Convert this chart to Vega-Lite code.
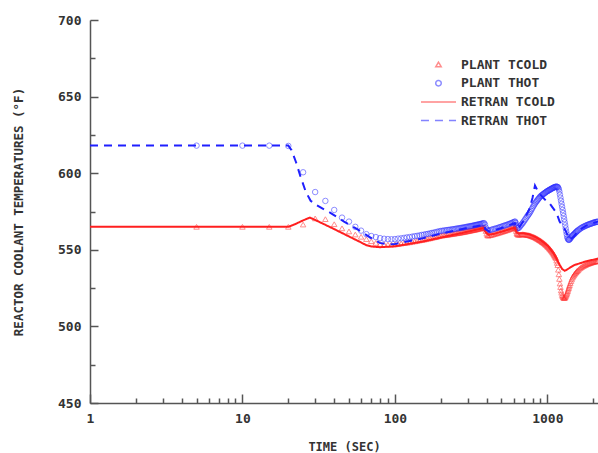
{
  "$schema": "https://vega.github.io/schema/vega-lite/v6.json",
  "width": 508,
  "height": 383,
  "autosize": {"type": "none"},
  "padding": {"left": 90, "top": 20, "right": 0, "bottom": 50},
  "background": "white",
  "config": {
    "view": {"stroke": null},
    "axis": {
      "grid": false,
      "domainColor": "#555",
      "domainWidth": 1.5,
      "tickColor": "#555",
      "tickWidth": 1.5,
      "labelColor": "#333",
      "labelFont": "DejaVu Sans Mono",
      "labelFontWeight": "bold",
      "labelFontSize": 13,
      "labelFlush": false,
      "labelOverlap": false,
      "titleColor": "#333",
      "titleFont": "DejaVu Sans Mono",
      "titleFontWeight": "bold",
      "titleFontSize": 12.5
    },
    "legend": {
      "labelFont": "DejaVu Sans Mono",
      "labelFontWeight": "bold",
      "labelFontSize": 13,
      "labelColor": "#333"
    }
  },
  "datasets": {
    "plant": [
      {"t":5,"PLANT TCOLD":565,"PLANT THOT":618},
      {"t":10,"PLANT TCOLD":565,"PLANT THOT":618},
      {"t":15,"PLANT TCOLD":565,"PLANT THOT":618},
      {"t":20,"PLANT TCOLD":565,"PLANT THOT":617.8},
      {"t":25,"PLANT TCOLD":566.5,"PLANT THOT":600.6},
      {"t":30,"PLANT TCOLD":570.5,"PLANT THOT":587.7},
      {"t":35,"PLANT TCOLD":570,"PLANT THOT":581.9},
      {"t":40,"PLANT TCOLD":566.7,"PLANT THOT":576},
      {"t":45,"PLANT TCOLD":564,"PLANT THOT":571},
      {"t":50,"PLANT TCOLD":562,"PLANT THOT":568.4},
      {"t":55,"PLANT TCOLD":560,"PLANT THOT":565},
      {"t":60,"PLANT TCOLD":558.5,"PLANT THOT":562.5},
      {"t":65,"PLANT TCOLD":557,"PLANT THOT":560.2},
      {"t":70,"PLANT TCOLD":555.6,"PLANT THOT":559},
      {"t":75,"PLANT TCOLD":554.5,"PLANT THOT":558.3},
      {"t":80,"PLANT TCOLD":553.8,"PLANT THOT":557.6},
      {"t":85,"PLANT TCOLD":553.5,"PLANT THOT":557.2},
      {"t":90,"PLANT TCOLD":553.4,"PLANT THOT":557},
      {"t":95,"PLANT TCOLD":553.4,"PLANT THOT":556.9},
      {"t":100,"PLANT TCOLD":553.5,"PLANT THOT":557.0},
      {"t":105,"PLANT TCOLD":553.8,"PLANT THOT":557.3},
      {"t":110,"PLANT TCOLD":554.1,"PLANT THOT":557.5},
      {"t":115,"PLANT TCOLD":554.4,"PLANT THOT":557.8},
      {"t":120,"PLANT TCOLD":554.6,"PLANT THOT":558.1},
      {"t":125,"PLANT TCOLD":554.9,"PLANT THOT":558.3},
      {"t":130,"PLANT TCOLD":555.2,"PLANT THOT":558.6},
      {"t":135,"PLANT TCOLD":555.5,"PLANT THOT":558.9},
      {"t":140,"PLANT TCOLD":555.8,"PLANT THOT":559.1},
      {"t":145,"PLANT TCOLD":556.1,"PLANT THOT":559.4},
      {"t":150,"PLANT TCOLD":556.4,"PLANT THOT":559.7},
      {"t":155,"PLANT TCOLD":556.6,"PLANT THOT":559.9},
      {"t":160,"PLANT TCOLD":556.9,"PLANT THOT":560.2},
      {"t":165,"PLANT TCOLD":557.2,"PLANT THOT":560.4},
      {"t":170,"PLANT TCOLD":557.5,"PLANT THOT":560.7},
      {"t":175,"PLANT TCOLD":557.8,"PLANT THOT":561.0},
      {"t":180,"PLANT TCOLD":558.1,"PLANT THOT":561.2},
      {"t":185,"PLANT TCOLD":558.3,"PLANT THOT":561.5},
      {"t":190,"PLANT TCOLD":558.6,"PLANT THOT":561.8},
      {"t":195,"PLANT TCOLD":558.9,"PLANT THOT":562.0},
      {"t":200,"PLANT TCOLD":559.2,"PLANT THOT":562.3},
      {"t":205,"PLANT TCOLD":559.3,"PLANT THOT":562.4},
      {"t":210,"PLANT TCOLD":559.5,"PLANT THOT":562.6},
      {"t":215,"PLANT TCOLD":559.6,"PLANT THOT":562.7},
      {"t":220,"PLANT TCOLD":559.8,"PLANT THOT":562.9},
      {"t":225,"PLANT TCOLD":559.9,"PLANT THOT":563.0},
      {"t":230,"PLANT TCOLD":560.1,"PLANT THOT":563.1},
      {"t":235,"PLANT TCOLD":560.2,"PLANT THOT":563.3},
      {"t":240,"PLANT TCOLD":560.4,"PLANT THOT":563.4},
      {"t":245,"PLANT TCOLD":560.5,"PLANT THOT":563.5},
      {"t":250,"PLANT TCOLD":560.7,"PLANT THOT":563.7},
      {"t":255,"PLANT TCOLD":560.8,"PLANT THOT":563.8},
      {"t":260,"PLANT TCOLD":561.0,"PLANT THOT":564.0},
      {"t":265,"PLANT TCOLD":561.1,"PLANT THOT":564.1},
      {"t":270,"PLANT TCOLD":561.2,"PLANT THOT":564.2},
      {"t":275,"PLANT TCOLD":561.4,"PLANT THOT":564.4},
      {"t":280,"PLANT TCOLD":561.5,"PLANT THOT":564.5},
      {"t":285,"PLANT TCOLD":561.7,"PLANT THOT":564.6},
      {"t":290,"PLANT TCOLD":561.8,"PLANT THOT":564.8},
      {"t":295,"PLANT TCOLD":562.0,"PLANT THOT":564.9},
      {"t":300,"PLANT TCOLD":562.1,"PLANT THOT":565.1},
      {"t":305,"PLANT TCOLD":562.3,"PLANT THOT":565.2},
      {"t":310,"PLANT TCOLD":562.4,"PLANT THOT":565.3},
      {"t":315,"PLANT TCOLD":562.6,"PLANT THOT":565.5},
      {"t":320,"PLANT TCOLD":562.7,"PLANT THOT":565.6},
      {"t":325,"PLANT TCOLD":562.9,"PLANT THOT":565.7},
      {"t":330,"PLANT TCOLD":563.0,"PLANT THOT":565.9},
      {"t":335,"PLANT TCOLD":563.1,"PLANT THOT":566.0},
      {"t":340,"PLANT TCOLD":563.3,"PLANT THOT":566.2},
      {"t":345,"PLANT TCOLD":563.4,"PLANT THOT":566.3},
      {"t":350,"PLANT TCOLD":563.6,"PLANT THOT":566.4},
      {"t":355,"PLANT TCOLD":563.7,"PLANT THOT":566.6},
      {"t":360,"PLANT TCOLD":563.9,"PLANT THOT":566.7},
      {"t":365,"PLANT TCOLD":564.0,"PLANT THOT":566.8},
      {"t":370,"PLANT TCOLD":564.2,"PLANT THOT":567.0},
      {"t":375,"PLANT TCOLD":564.3,"PLANT THOT":567.1},
      {"t":380,"PLANT TCOLD":564.5,"PLANT THOT":567.3},
      {"t":385,"PLANT TCOLD":564.6,"PLANT THOT":567.4},
      {"t":390,"PLANT TCOLD":563.8,"PLANT THOT":566.5},
      {"t":395,"PLANT TCOLD":562.3,"PLANT THOT":564.5},
      {"t":400,"PLANT TCOLD":560.5,"PLANT THOT":563.2},
      {"t":405,"PLANT TCOLD":559.5,"PLANT THOT":562.6},
      {"t":410,"PLANT TCOLD":559.2,"PLANT THOT":562.5},
      {"t":420,"PLANT TCOLD":559.5,"PLANT THOT":562.8},
      {"t":430,"PLANT TCOLD":559.7,"PLANT THOT":563.1},
      {"t":440,"PLANT TCOLD":560.0,"PLANT THOT":563.4},
      {"t":450,"PLANT TCOLD":560.3,"PLANT THOT":563.7},
      {"t":460,"PLANT TCOLD":560.6,"PLANT THOT":563.9},
      {"t":470,"PLANT TCOLD":560.8,"PLANT THOT":564.2},
      {"t":480,"PLANT TCOLD":561.1,"PLANT THOT":564.5},
      {"t":490,"PLANT TCOLD":561.4,"PLANT THOT":564.8},
      {"t":500,"PLANT TCOLD":561.7,"PLANT THOT":565.1},
      {"t":510,"PLANT TCOLD":561.9,"PLANT THOT":565.4},
      {"t":520,"PLANT TCOLD":562.2,"PLANT THOT":565.7},
      {"t":530,"PLANT TCOLD":562.5,"PLANT THOT":566.0},
      {"t":540,"PLANT TCOLD":562.7,"PLANT THOT":566.2},
      {"t":550,"PLANT TCOLD":563.0,"PLANT THOT":566.5},
      {"t":560,"PLANT TCOLD":563.3,"PLANT THOT":566.8},
      {"t":570,"PLANT TCOLD":563.6,"PLANT THOT":567.1},
      {"t":580,"PLANT TCOLD":563.8,"PLANT THOT":567.4},
      {"t":590,"PLANT TCOLD":564.1,"PLANT THOT":567.7},
      {"t":600,"PLANT TCOLD":564.4,"PLANT THOT":568.0},
      {"t":610,"PLANT TCOLD":564.7,"PLANT THOT":568.3},
      {"t":615,"PLANT TCOLD":564.8,"PLANT THOT":568.4},
      {"t":620,"PLANT TCOLD":563.8,"PLANT THOT":567.5},
      {"t":625,"PLANT TCOLD":562.3,"PLANT THOT":566.0},
      {"t":630,"PLANT TCOLD":561.0,"PLANT THOT":565.0},
      {"t":635,"PLANT TCOLD":560.3,"PLANT THOT":564.3},
      {"t":640,"PLANT TCOLD":559.9,"PLANT THOT":564.0},
      {"t":650,"PLANT TCOLD":559.8,"PLANT THOT":564.3},
      {"t":660,"PLANT TCOLD":559.9,"PLANT THOT":565.1},
      {"t":670,"PLANT TCOLD":560.0,"PLANT THOT":565.9},
      {"t":680,"PLANT TCOLD":560.1,"PLANT THOT":566.7},
      {"t":690,"PLANT TCOLD":560.2,"PLANT THOT":567.5},
      {"t":700,"PLANT TCOLD":560.1,"PLANT THOT":568.4},
      {"t":710,"PLANT TCOLD":560.0,"PLANT THOT":569.3},
      {"t":720,"PLANT TCOLD":559.9,"PLANT THOT":570.2},
      {"t":730,"PLANT TCOLD":559.8,"PLANT THOT":571.1},
      {"t":740,"PLANT TCOLD":559.7,"PLANT THOT":572.0},
      {"t":750,"PLANT TCOLD":559.6,"PLANT THOT":572.8},
      {"t":760,"PLANT TCOLD":559.5,"PLANT THOT":573.6},
      {"t":770,"PLANT TCOLD":559.3,"PLANT THOT":574.5},
      {"t":780,"PLANT TCOLD":559.1,"PLANT THOT":575.5},
      {"t":790,"PLANT TCOLD":558.9,"PLANT THOT":576.5},
      {"t":800,"PLANT TCOLD":558.7,"PLANT THOT":577.5},
      {"t":810,"PLANT TCOLD":558.5,"PLANT THOT":578.5},
      {"t":820,"PLANT TCOLD":558.3,"PLANT THOT":579.4},
      {"t":830,"PLANT TCOLD":558.1,"PLANT THOT":580.2},
      {"t":840,"PLANT TCOLD":557.8,"PLANT THOT":581.0},
      {"t":850,"PLANT TCOLD":557.5,"PLANT THOT":581.7},
      {"t":860,"PLANT TCOLD":557.2,"PLANT THOT":582.3},
      {"t":870,"PLANT TCOLD":556.9,"PLANT THOT":583.0},
      {"t":880,"PLANT TCOLD":556.6,"PLANT THOT":583.6},
      {"t":890,"PLANT TCOLD":556.3,"PLANT THOT":584.2},
      {"t":900,"PLANT TCOLD":556.0,"PLANT THOT":584.8},
      {"t":910,"PLANT TCOLD":555.7,"PLANT THOT":585.2},
      {"t":920,"PLANT TCOLD":555.3,"PLANT THOT":585.6},
      {"t":930,"PLANT TCOLD":555.0,"PLANT THOT":586.0},
      {"t":940,"PLANT TCOLD":554.7,"PLANT THOT":586.3},
      {"t":950,"PLANT TCOLD":554.3,"PLANT THOT":586.7},
      {"t":960,"PLANT TCOLD":554.0,"PLANT THOT":587.0},
      {"t":970,"PLANT TCOLD":553.6,"PLANT THOT":587.3},
      {"t":980,"PLANT TCOLD":553.2,"PLANT THOT":587.7},
      {"t":990,"PLANT TCOLD":552.8,"PLANT THOT":588.0},
      {"t":1000,"PLANT TCOLD":552.3,"PLANT THOT":588.3},
      {"t":1010,"PLANT TCOLD":551.9,"PLANT THOT":588.5},
      {"t":1020,"PLANT TCOLD":551.5,"PLANT THOT":588.8},
      {"t":1030,"PLANT TCOLD":551.0,"PLANT THOT":589.0},
      {"t":1040,"PLANT TCOLD":550.5,"PLANT THOT":589.3},
      {"t":1050,"PLANT TCOLD":550.0,"PLANT THOT":589.5},
      {"t":1060,"PLANT TCOLD":549.5,"PLANT THOT":589.7},
      {"t":1070,"PLANT TCOLD":549.0,"PLANT THOT":590.0},
      {"t":1080,"PLANT TCOLD":548.5,"PLANT THOT":590.2},
      {"t":1090,"PLANT TCOLD":547.8,"PLANT THOT":590.4},
      {"t":1100,"PLANT TCOLD":547.2,"PLANT THOT":590.6},
      {"t":1110,"PLANT TCOLD":546.5,"PLANT THOT":590.8},
      {"t":1120,"PLANT TCOLD":545.8,"PLANT THOT":590.9},
      {"t":1130,"PLANT TCOLD":545.2,"PLANT THOT":591.1},
      {"t":1140,"PLANT TCOLD":544.5,"PLANT THOT":591.2},
      {"t":1150,"PLANT TCOLD":543.0,"PLANT THOT":591.2},
      {"t":1160,"PLANT TCOLD":541.5,"PLANT THOT":591.1},
      {"t":1170,"PLANT TCOLD":540.0,"PLANT THOT":591.0},
      {"t":1180,"PLANT TCOLD":537.0,"PLANT THOT":590.4},
      {"t":1190,"PLANT TCOLD":534.0,"PLANT THOT":589.5},
      {"t":1200,"PLANT TCOLD":531.0,"PLANT THOT":588.0},
      {"t":1210,"PLANT TCOLD":528.0,"PLANT THOT":586.0},
      {"t":1220,"PLANT TCOLD":525.7,"PLANT THOT":584.0},
      {"t":1230,"PLANT TCOLD":523.5,"PLANT THOT":582.0},
      {"t":1240,"PLANT TCOLD":522.0,"PLANT THOT":580.0},
      {"t":1250,"PLANT TCOLD":520.5,"PLANT THOT":578.0},
      {"t":1260,"PLANT TCOLD":519.7,"PLANT THOT":576.0},
      {"t":1270,"PLANT TCOLD":519.0,"PLANT THOT":574.0},
      {"t":1280,"PLANT TCOLD":518.7,"PLANT THOT":572.0},
      {"t":1290,"PLANT TCOLD":518.5,"PLANT THOT":570.0},
      {"t":1300,"PLANT TCOLD":518.7,"PLANT THOT":568.0},
      {"t":1310,"PLANT TCOLD":519.0,"PLANT THOT":566.0},
      {"t":1320,"PLANT TCOLD":519.7,"PLANT THOT":564.0},
      {"t":1330,"PLANT TCOLD":520.5,"PLANT THOT":562.0},
      {"t":1340,"PLANT TCOLD":521.2,"PLANT THOT":560.2},
      {"t":1350,"PLANT TCOLD":522.0,"PLANT THOT":558.5},
      {"t":1360,"PLANT TCOLD":523.0,"PLANT THOT":557.5},
      {"t":1370,"PLANT TCOLD":524.0,"PLANT THOT":556.8},
      {"t":1380,"PLANT TCOLD":525.0,"PLANT THOT":556.5},
      {"t":1390,"PLANT TCOLD":526.0,"PLANT THOT":556.6},
      {"t":1400,"PLANT TCOLD":527.0,"PLANT THOT":556.8},
      {"t":1415,"PLANT TCOLD":528.3,"PLANT THOT":557.4},
      {"t":1430,"PLANT TCOLD":529.5,"PLANT THOT":558.0},
      {"t":1445,"PLANT TCOLD":530.7,"PLANT THOT":558.6},
      {"t":1460,"PLANT TCOLD":531.8,"PLANT THOT":559.2},
      {"t":1475,"PLANT TCOLD":532.6,"PLANT THOT":559.6},
      {"t":1490,"PLANT TCOLD":533.3,"PLANT THOT":560.0},
      {"t":1505,"PLANT TCOLD":534.0,"PLANT THOT":560.4},
      {"t":1520,"PLANT TCOLD":534.6,"PLANT THOT":560.9},
      {"t":1535,"PLANT TCOLD":535.1,"PLANT THOT":561.3},
      {"t":1550,"PLANT TCOLD":535.6,"PLANT THOT":561.7},
      {"t":1565,"PLANT TCOLD":536.1,"PLANT THOT":562.1},
      {"t":1580,"PLANT TCOLD":536.5,"PLANT THOT":562.5},
      {"t":1600,"PLANT TCOLD":537.0,"PLANT THOT":562.9},
      {"t":1625,"PLANT TCOLD":537.7,"PLANT THOT":563.4},
      {"t":1650,"PLANT TCOLD":538.2,"PLANT THOT":563.9},
      {"t":1675,"PLANT TCOLD":538.7,"PLANT THOT":564.3},
      {"t":1700,"PLANT TCOLD":539.1,"PLANT THOT":564.7},
      {"t":1725,"PLANT TCOLD":539.5,"PLANT THOT":565.0},
      {"t":1750,"PLANT TCOLD":539.8,"PLANT THOT":565.3},
      {"t":1775,"PLANT TCOLD":540.1,"PLANT THOT":565.6},
      {"t":1800,"PLANT TCOLD":540.4,"PLANT THOT":565.9},
      {"t":1825,"PLANT TCOLD":540.7,"PLANT THOT":566.1},
      {"t":1850,"PLANT TCOLD":540.9,"PLANT THOT":566.4},
      {"t":1875,"PLANT TCOLD":541.1,"PLANT THOT":566.6},
      {"t":1900,"PLANT TCOLD":541.3,"PLANT THOT":566.8},
      {"t":1925,"PLANT TCOLD":541.5,"PLANT THOT":567.0},
      {"t":1950,"PLANT TCOLD":541.7,"PLANT THOT":567.2},
      {"t":1975,"PLANT TCOLD":541.9,"PLANT THOT":567.4},
      {"t":2000,"PLANT TCOLD":542.0,"PLANT THOT":567.6},
      {"t":2025,"PLANT TCOLD":542.2,"PLANT THOT":567.8},
      {"t":2050,"PLANT TCOLD":542.3,"PLANT THOT":567.9},
      {"t":2075,"PLANT TCOLD":542.4,"PLANT THOT":568.1},
      {"t":2100,"PLANT TCOLD":542.5,"PLANT THOT":568.2},
      {"t":2125,"PLANT TCOLD":542.6,"PLANT THOT":568.3},
      {"t":2150,"PLANT TCOLD":542.7,"PLANT THOT":568.4}
    ],
    "retran": [
      {"t":1,"s":"RETRAN TCOLD","v":565},
      {"t":20,"s":"RETRAN TCOLD","v":565},
      {"t":22,"s":"RETRAN TCOLD","v":566.6},
      {"t":25,"s":"RETRAN TCOLD","v":569.2},
      {"t":27.7,"s":"RETRAN TCOLD","v":571},
      {"t":30,"s":"RETRAN TCOLD","v":569.5},
      {"t":40,"s":"RETRAN TCOLD","v":563.5},
      {"t":50,"s":"RETRAN TCOLD","v":558.7},
      {"t":60,"s":"RETRAN TCOLD","v":554.8},
      {"t":65,"s":"RETRAN TCOLD","v":553},
      {"t":70,"s":"RETRAN TCOLD","v":552.2},
      {"t":80,"s":"RETRAN TCOLD","v":551.7},
      {"t":100,"s":"RETRAN TCOLD","v":552.3},
      {"t":150,"s":"RETRAN TCOLD","v":555.3},
      {"t":200,"s":"RETRAN TCOLD","v":558},
      {"t":300,"s":"RETRAN TCOLD","v":561.8},
      {"t":385,"s":"RETRAN TCOLD","v":564.3},
      {"t":392,"s":"RETRAN TCOLD","v":561.8},
      {"t":410,"s":"RETRAN TCOLD","v":559.8},
      {"t":450,"s":"RETRAN TCOLD","v":560.5},
      {"t":500,"s":"RETRAN TCOLD","v":561.8},
      {"t":612,"s":"RETRAN TCOLD","v":564.5},
      {"t":628,"s":"RETRAN TCOLD","v":561.3},
      {"t":645,"s":"RETRAN TCOLD","v":560.8},
      {"t":700,"s":"RETRAN TCOLD","v":560.8},
      {"t":766,"s":"RETRAN TCOLD","v":560},
      {"t":830,"s":"RETRAN TCOLD","v":558.5},
      {"t":900,"s":"RETRAN TCOLD","v":556.5},
      {"t":1010,"s":"RETRAN TCOLD","v":552.5},
      {"t":1100,"s":"RETRAN TCOLD","v":547.5},
      {"t":1150,"s":"RETRAN TCOLD","v":544},
      {"t":1200,"s":"RETRAN TCOLD","v":540.5},
      {"t":1250,"s":"RETRAN TCOLD","v":537.5},
      {"t":1300,"s":"RETRAN TCOLD","v":536.3},
      {"t":1350,"s":"RETRAN TCOLD","v":537.2},
      {"t":1500,"s":"RETRAN TCOLD","v":540},
      {"t":1800,"s":"RETRAN TCOLD","v":542.5},
      {"t":2200,"s":"RETRAN TCOLD","v":544.5},
      {"t":1,"s":"RETRAN THOT","v":618},
      {"t":20,"s":"RETRAN THOT","v":618},
      {"t":21,"s":"RETRAN THOT","v":615},
      {"t":22.5,"s":"RETRAN THOT","v":607},
      {"t":24,"s":"RETRAN THOT","v":598},
      {"t":26,"s":"RETRAN THOT","v":588},
      {"t":28,"s":"RETRAN THOT","v":582},
      {"t":30.6,"s":"RETRAN THOT","v":579.2},
      {"t":38.2,"s":"RETRAN THOT","v":573.8},
      {"t":46.4,"s":"RETRAN THOT","v":568.4},
      {"t":55.5,"s":"RETRAN THOT","v":564},
      {"t":67.5,"s":"RETRAN THOT","v":558.6},
      {"t":79.6,"s":"RETRAN THOT","v":554.5},
      {"t":90,"s":"RETRAN THOT","v":553.6},
      {"t":100,"s":"RETRAN THOT","v":553.8},
      {"t":150,"s":"RETRAN THOT","v":557.3},
      {"t":200,"s":"RETRAN THOT","v":560.5},
      {"t":300,"s":"RETRAN THOT","v":564.3},
      {"t":385,"s":"RETRAN THOT","v":566.3},
      {"t":392,"s":"RETRAN THOT","v":563.3},
      {"t":420,"s":"RETRAN THOT","v":561.8},
      {"t":500,"s":"RETRAN THOT","v":564.2},
      {"t":612,"s":"RETRAN THOT","v":567.5},
      {"t":628,"s":"RETRAN THOT","v":564.8},
      {"t":645,"s":"RETRAN THOT","v":563.8},
      {"t":700,"s":"RETRAN THOT","v":569},
      {"t":766,"s":"RETRAN THOT","v":577},
      {"t":800,"s":"RETRAN THOT","v":584},
      {"t":830,"s":"RETRAN THOT","v":592},
      {"t":860,"s":"RETRAN THOT","v":589},
      {"t":890,"s":"RETRAN THOT","v":586.5},
      {"t":960,"s":"RETRAN THOT","v":583},
      {"t":1040,"s":"RETRAN THOT","v":580},
      {"t":1150,"s":"RETRAN THOT","v":574},
      {"t":1204,"s":"RETRAN THOT","v":568.4},
      {"t":1310,"s":"RETRAN THOT","v":563},
      {"t":1372,"s":"RETRAN THOT","v":558.6},
      {"t":1420,"s":"RETRAN THOT","v":556.6},
      {"t":1500,"s":"RETRAN THOT","v":559},
      {"t":1600,"s":"RETRAN THOT","v":562.5},
      {"t":1800,"s":"RETRAN THOT","v":565.8},
      {"t":2200,"s":"RETRAN THOT","v":568.8}
    ]
  },
  "encoding": {
    "x": {
      "field": "t",
      "type": "quantitative",
      "scale": {"type": "log", "domain": [1, 2150], "nice": false},
      "axis": {
        "title": "TIME (SEC)",
        "values": [1,2,3,4,5,6,7,8,9,10,20,30,40,50,60,70,80,90,100,200,300,400,500,600,700,800,900,1000,2000],
        "format": "d",
        "labelExpr": "indexof([1,10,100,1000], datum.value) >= 0 ? datum.label : ''",
        "tickSize": {"condition": {"test": "indexof([1,10,100,1000], datum.value) >= 0", "value": -9}, "value": -5},
        "labelPadding": 18,
        "titlePadding": 12,
        "titleFontSize": 12
      }
    },
    "y": {
      "field": "v",
      "type": "quantitative",
      "scale": {"domain": [450, 700], "nice": false, "zero": false},
      "axis": {
        "title": "REACTOR COOLANT TEMPERATURES (°F)",
        "values": [450,475,500,525,550,575,600,625,650,675,700],
        "labelExpr": "datum.value % 50 == 0 ? datum.label : ''",
        "tickSize": {"condition": {"test": "datum.value % 50 == 0", "value": -8}, "value": -5},
        "labelPadding": 17,
        "titlePadding": 32
      }
    }
  },
  "layer": [
    {
      "data": {"name": "plant"},
      "transform": [{"fold": ["PLANT TCOLD", "PLANT THOT"], "as": ["s", "v"]}],
      "mark": {"type": "point", "filled": false, "size": 30, "strokeWidth": 1, "opacity": 0.55, "clip": true},
      "encoding": {
        "color": {
          "field": "s", "type": "nominal",
          "scale": {"domain": ["PLANT TCOLD","PLANT THOT","RETRAN TCOLD","RETRAN THOT"], "range": ["#ff3030","#3030ff","#ff1f1f","#1f1fff"]},
          "legend": {
            "title": null, "orient": "none", "legendX": 342, "legendY": 38, "padding": 0,
            "rowPadding": 4.7, "labelOffset": 16, "symbolSize": 30,
            "encode": {"symbols": {"update": {
              "strokeWidth": {"signal": "datum.value == 'RETRAN TCOLD' || datum.value == 'RETRAN THOT' ? 2 : 1"},
              "opacity": {"signal": "datum.value == 'RETRAN TCOLD' || datum.value == 'RETRAN THOT' ? 1 : 0.55"},
              "fill": {"value": "transparent"}
            }}}
          }
        },
        "shape": {
          "field": "s", "type": "nominal",
          "scale": {"domain": ["PLANT TCOLD","PLANT THOT","RETRAN TCOLD","RETRAN THOT"], "range": ["triangle-up","circle","M-6.4,0H6.4","M-6.4,0H6.4"]},
          "legend": {"title": null, "orient": "none", "legendX": 342, "legendY": 38}
        }
      }
    },
    {
      "data": {"name": "retran"},
      "mark": {"type": "line", "strokeWidth": 2, "clip": true},
      "encoding": {
        "color": {"field": "s", "type": "nominal", "legend": {"title": null, "orient": "none", "legendX": 342, "legendY": 38}},
        "strokeDash": {
          "field": "s", "type": "nominal",
          "scale": {"domain": ["PLANT TCOLD","PLANT THOT","RETRAN TCOLD","RETRAN THOT"], "range": [[1,0],[1,0],[1,0],[8,6]]},
          "legend": {"title": null, "orient": "none", "legendX": 342, "legendY": 38}
        }
      }
    },
    {
      "mark": {"type": "rule", "color": "#555", "strokeWidth": 1.5},
      "encoding": {"y": {"datum": 700}, "x": null}
    }
  ]
}
